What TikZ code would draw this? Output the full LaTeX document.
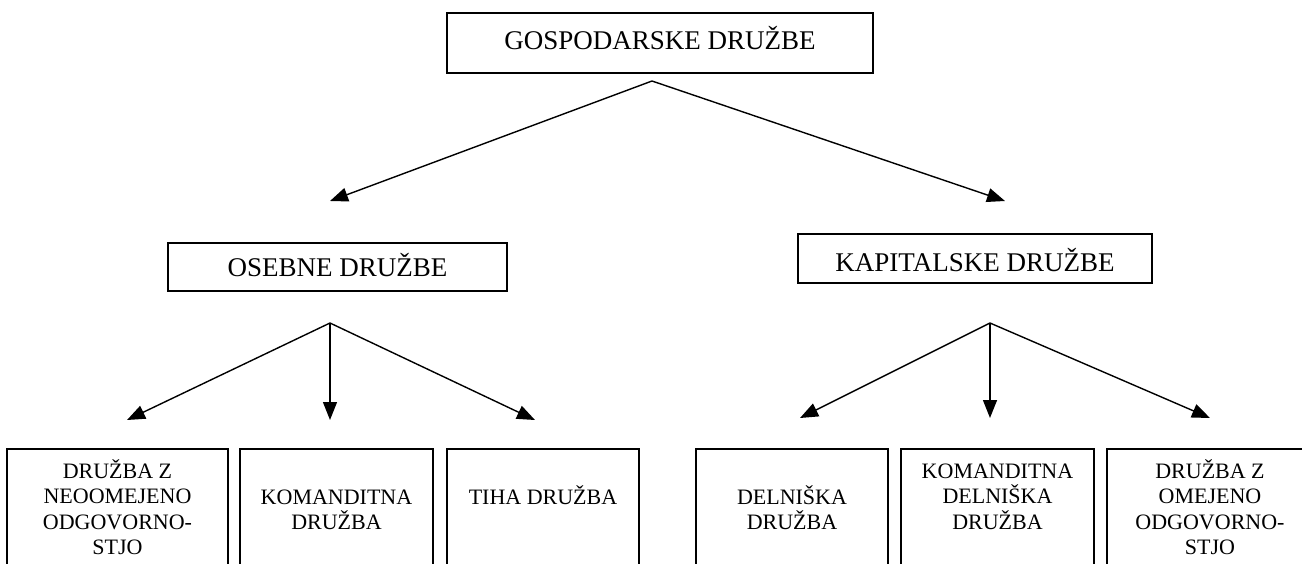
\documentclass[tikz,border=0pt]{standalone}
\usepackage{fontspec}
\setmainfont{Liberation Serif}
\usetikzlibrary{arrows.meta}
\begin{document}
\begin{tikzpicture}[x=1pt,y=-1pt,
  box/.style={draw, line width=1.5pt, inner sep=0pt, rectangle},
  big/.style={font=\fontsize{27}{32}\selectfont, inner sep=0pt, anchor=base},
  small/.style={font=\fontsize{22}{25.5}\selectfont, inner sep=0pt, align=center, anchor=north},
  arr/.style={line width=1.4pt, -{Triangle[length=18pt,width=14pt]}}]
\useasboundingbox (0,0) rectangle (1302,563);
\clip (0,0) rectangle (1302,563);
% top level
\node[box, minimum width=426pt, minimum height=60pt] (gd) at (660,43) {};
\node[big] (gdt) at (660,49) {GOSPODARSKE DRUŽBE};
% second level
\node[box, minimum width=339pt, minimum height=48pt] (os) at (337.5,267) {};
\node[big] (ost) at (337.5,276) {OSEBNE DRUŽBE};
\node[box, minimum width=354pt, minimum height=49pt] (kd) at (975,258.5) {};
\node[big] (kdt) at (975,271) {KAPITALSKE DRUŽBE};
% connector points
\coordinate (gdA) at (652,81);
\coordinate (gdL) at (330,201);
\coordinate (gdR) at (1005,201);
\coordinate (osA) at (330,323);
\coordinate (osL) at (127,420);
\coordinate (osM) at (330,420);
\coordinate (osR) at (535,420);
\coordinate (kdA) at (990,323);
\coordinate (kdL) at (800,418);
\coordinate (kdM) at (990,418);
\coordinate (kdR) at (1210,418);
\draw[arr] (gdA) -- (gdL);
\draw[arr] (gdA) -- (gdR);
\draw[arr] (osA) -- (osL);
\draw[arr] (osA) -- (osM);
\draw[arr] (osA) -- (osR);
\draw[arr] (kdA) -- (kdL);
\draw[arr] (kdA) -- (kdM);
\draw[arr] (kdA) -- (kdR);
% bottom level
\node[box, minimum width=221pt, minimum height=200pt, anchor=north] (b1) at (117.5,448) {};
\node[small] (b1t) at (117.5,457) {\rule{0pt}{21pt}DRUŽBA Z\\NEOOMEJENO\\ODGOVORNO-\\STJO};
\node[box, minimum width=193pt, minimum height=200pt, anchor=north] (b2) at (336.5,448) {};
\node[small] (b2t) at (336.5,483) {\rule{0pt}{21pt}KOMANDITNA\\DRUŽBA};
\node[box, minimum width=192pt, minimum height=200pt, anchor=north] (b3) at (543,448) {};
\node[small] (b3t) at (543,483) {\rule{0pt}{21pt}TIHA DRUŽBA};
\node[box, minimum width=192pt, minimum height=200pt, anchor=north] (b4) at (792,448) {};
\node[small] (b4t) at (792,483) {\rule{0pt}{21pt}DELNIŠKA\\DRUŽBA};
\node[box, minimum width=193pt, minimum height=200pt, anchor=north] (b5) at (997.5,448) {};
\node[small] (b5t) at (997.5,457) {\rule{0pt}{21pt}KOMANDITNA\\DELNIŠKA\\DRUŽBA};
\node[box, minimum width=206pt, minimum height=200pt, anchor=north] (b6) at (1210,448) {};
\node[small] (b6t) at (1210,457) {\rule{0pt}{21pt}DRUŽBA Z\\OMEJENO\\ODGOVORNO-\\STJO};
\end{tikzpicture}
\end{document}
